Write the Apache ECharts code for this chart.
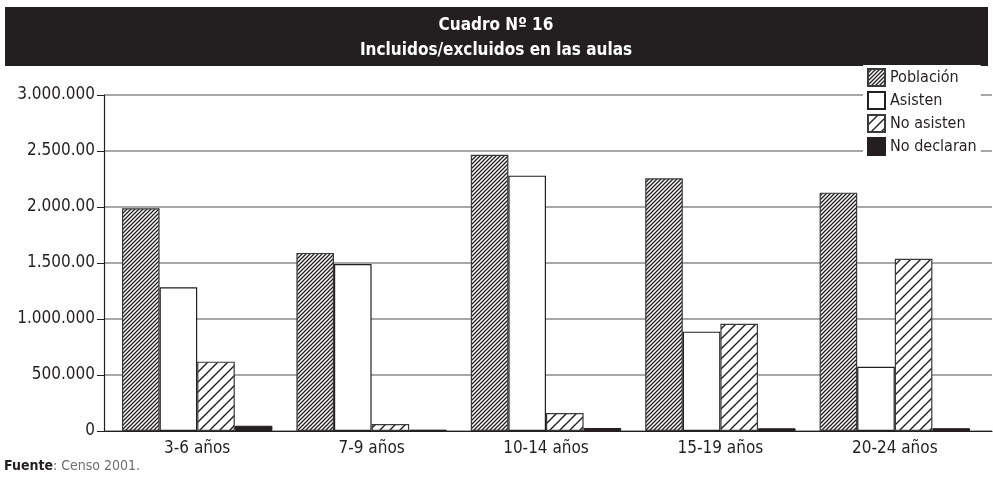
<!DOCTYPE html>
<html>
<head>
<meta charset="utf-8">
<script src="https://cdn.jsdelivr.net/npm/echarts@6/dist/echarts.min.js"></script>
<style>
html,body{margin:0;padding:0;background:#fff;}
#chart{width:993px;height:481px;}
</style>
</head>
<body>
<div id="chart"></div>
<script>
const categories = ['3-6 años', '7-9 años', '10-14 años', '15-19 años', '20-24 años'];
const seriesNames = ['Población', 'Asisten', 'No asisten', 'No declaran'];
const poblacion = [1988000, 1590000, 2467000, 2256000, 2128000];
const asisten = [1283000, 1490000, 2280000, 887000, 574000];
const noAsisten = [619000, 62000, 160000, 958000, 1538000];
const noDeclaran = [47000, 12000, 27000, 24000, 25000];
const yTickLabels = ['0', '500.000', '1.000.000', '1.500.00', '2.000.00', '2.500.00', '3.000.000'];
const titleLines = ['Cuadro Nº 16', 'Incluidos/excluidos en las aulas'];

const INK = '#231f20';
const FONT = '"DejaVu Sans Condensed", "Liberation Sans Narrow", sans-serif';

function hatch(step, lw) {
  const c = document.createElement('canvas');
  c.width = step; c.height = step;
  const g = c.getContext('2d');
  g.fillStyle = '#fff';
  g.fillRect(0, 0, step, step);
  g.strokeStyle = INK;
  g.lineWidth = lw;
  g.beginPath();
  g.moveTo(-1, step + 1); g.lineTo(step + 1, -1);
  g.moveTo(-1, 1); g.lineTo(1, -1);
  g.moveTo(step - 1, step + 1); g.lineTo(step + 1, step - 1);
  g.stroke();
  return { image: c, repeat: 'repeat' };
}

const chart = echarts.init(document.getElementById('chart'), null, { renderer: 'canvas' });

const barBase = { type: 'bar', xAxisIndex: 1, yAxisIndex: 1, barWidth: 37.6, barGap: '0%' };

chart.setOption({
  animation: false,
  backgroundColor: '#fff',
  textStyle: { fontFamily: FONT, color: INK },
  graphic: [
    { type: 'rect', shape: { x: 5, y: 7, width: 983, height: 59 }, style: { fill: INK }, z: 0 },
    { type: 'text', x: 496, y: 26, style: { text: titleLines[0], fill: '#fff', font: 'bold 17px ' + FONT, align: 'center', verticalAlign: 'middle' }, z: 1 },
    { type: 'text', x: 496, y: 51, style: { text: titleLines[1], fill: '#fff', font: 'bold 17px ' + FONT, align: 'center', verticalAlign: 'middle' }, z: 1 },
    { type: 'text', x: 4, y: 466, style: {
        text: '{b|Fuente}{r|: Censo 2001.}',
        verticalAlign: 'middle',
        rich: {
          b: { fontFamily: FONT, fontWeight: 'bold', fontSize: 14, fill: INK, color: INK },
          r: { fontFamily: FONT, fontSize: 14, fill: '#6d6e71', color: '#6d6e71' }
        }
      }, z: 1 }
  ],
  legend: {
    data: seriesNames.map(n => ({ name: n, icon: 'rect' })),
    orient: 'vertical',
    left: 863,
    top: 65,
    itemWidth: 17,
    itemHeight: 17,
    itemGap: 4,
    padding: [3, 4, 3, 4],
    backgroundColor: '#fff',
    textStyle: { fontFamily: FONT, fontSize: 16, color: INK, lineHeight: 18 },
    z: 10
  },
  grid: [
    { left: 104, top: 95, width: 888, height: 336 },
    { left: 110, top: 95, width: 872, height: 336 }
  ],
  xAxis: [
    { gridIndex: 0, type: 'category', data: categories,
      axisLine: { show: true, lineStyle: { color: INK, width: 1.2 } },
      axisTick: { show: false }, axisLabel: { show: false }, splitLine: { show: false } },
    { gridIndex: 1, type: 'category', data: categories,
      axisLine: { show: false }, axisTick: { show: false },
      axisLabel: { show: true, margin: 9, fontFamily: FONT, fontSize: 17, color: INK } }
  ],
  yAxis: [
    { gridIndex: 0, type: 'value', min: 0, max: 3000000, interval: 500000,
      axisLine: { show: true, lineStyle: { color: INK, width: 1.2 } },
      axisTick: { show: true, length: 7, lineStyle: { color: INK } },
      axisLabel: { margin: 9, fontFamily: FONT, fontSize: 17, color: INK,
        formatter: (v, i) => yTickLabels[i] },
      splitLine: { show: true, lineStyle: { color: '#8a8a8a', width: 1.5 } } },
    { gridIndex: 1, type: 'value', min: 0, max: 3000000, interval: 500000, show: false,
      splitLine: { show: false } }
  ],
  series: [
    Object.assign({}, barBase, { name: seriesNames[0], data: poblacion,
      itemStyle: { color: hatch(4, 1.3), borderColor: '#3a3a3a', borderWidth: 1.2 } }),
    Object.assign({}, barBase, { name: seriesNames[1], data: asisten,
      itemStyle: { color: '#fff', borderColor: INK, borderWidth: 1.2 } }),
    Object.assign({}, barBase, { name: seriesNames[2], data: noAsisten,
      itemStyle: { color: hatch(10, 1.4), borderColor: '#3a3a3a', borderWidth: 1.2 } }),
    Object.assign({}, barBase, { name: seriesNames[3], data: noDeclaran,
      itemStyle: { color: INK, borderColor: INK, borderWidth: 1 } })
  ]
});
</script>
</body>
</html>
